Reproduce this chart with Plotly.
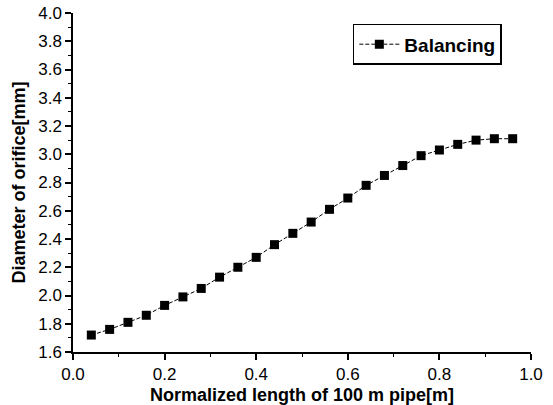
import plotly.graph_objects as go

x_vals = [0.04, 0.08, 0.12, 0.16, 0.20, 0.24, 0.28, 0.32, 0.36, 0.40, 0.44, 0.48,
          0.52, 0.56, 0.60, 0.64, 0.68, 0.72, 0.76, 0.80, 0.84, 0.88, 0.92, 0.96]
diameter = [1.72, 1.76, 1.81, 1.86, 1.93, 1.99, 2.05, 2.13, 2.20, 2.27, 2.36, 2.44,
            2.52, 2.61, 2.69, 2.78, 2.85, 2.92, 2.99, 3.03, 3.07, 3.10, 3.11, 3.11]
series_name = "Balancing"
x_title = "Normalized length of 100 m pipe[m]"
y_title = "Diameter of orifice[mm]"
x_ticks = [0.0, 0.2, 0.4, 0.6, 0.8, 1.0]
y_ticks = [1.6, 1.8, 2.0, 2.2, 2.4, 2.6, 2.8, 3.0, 3.2, 3.4, 3.6, 3.8, 4.0]

FONT = "Liberation Sans, Arial, sans-serif"

fig = go.Figure()
fig.add_trace(go.Scatter(
    x=x_vals, y=diameter, name=series_name, mode="lines+markers",
    line=dict(color="black", width=1, dash="4px,2px"),
    marker=dict(symbol="square", size=9, color="black"),
))

axis_common = dict(
    showgrid=False, zeroline=False, showline=True, linecolor="black", linewidth=1.5,
    ticks="outside", ticklen=6, tickwidth=1.5, tickcolor="black", automargin=False,
    tickfont=dict(family=FONT, size=17, color="black"),
    minor=dict(ticks="outside", ticklen=3, tickwidth=1, tickcolor="black", dtick=0.1),
)

fig.update_xaxes(range=[0, 1.0], tickvals=x_ticks, ticktext=[f"{v:.1f}" for v in x_ticks],
                 title=dict(text=x_title, font=dict(family=FONT, size=18, color="black", weight="bold"), standoff=6),
                 **axis_common)
fig.update_yaxes(range=[1.6, 4.0], tickvals=y_ticks, ticktext=[f"{v:.1f}" for v in y_ticks],
                 title=dict(text=y_title, font=dict(family=FONT, size=18, color="black", weight="bold"), standoff=8),
                 **axis_common)

fig.update_layout(
    width=553, height=405,
    margin=dict(l=73, r=22, t=13, b=53, autoexpand=False),
    paper_bgcolor="white", plot_bgcolor="white",
    showlegend=True,
    legend=dict(x=0.611, y=0.968, xanchor="left", yanchor="top",
                bordercolor="black", borderwidth=1.5, bgcolor="white",
                font=dict(family=FONT, size=19, color="black", weight="bold"),
                itemwidth=40, tracegroupgap=0),
)

fig.write_html("out.html", config={"displayModeBar": False},
               post_script="document.body.style.margin='0';document.body.style.padding='0';")
